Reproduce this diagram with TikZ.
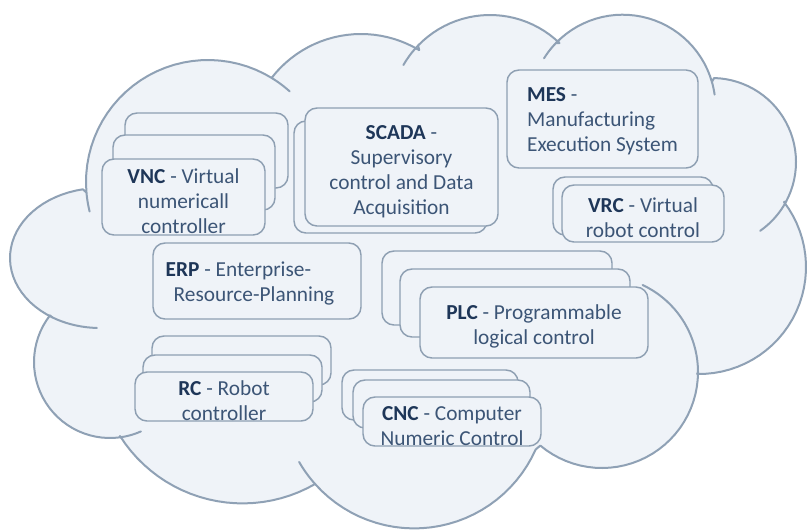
\documentclass[tikz,border=0pt]{standalone}
\usepackage{fontspec}
\setmainfont{Carlito}
\definecolor{cloudf}{HTML}{EFF3F8}
\definecolor{cloudc}{HTML}{8FA1B5}
\definecolor{boxc}{HTML}{8E9FB2}
\definecolor{txtc}{HTML}{3C5576}
\definecolor{acrc}{HTML}{1E3658}
\newcommand{\acr}[1]{\rule{0pt}{17.5pt}\textcolor{acrc}{\textbf{#1}}}
\begin{document}
\begin{tikzpicture}[x=0.75pt,y=-0.75pt,
  cloudline/.style={draw=cloudc, line width=1.5pt, line cap=round},
  box/.style={draw=boxc, line width=1.1pt, fill=cloudf, rounded corners=9pt, inner sep=0pt, outer sep=0pt},
  lbl/.style={text=txtc, font=\fontsize{16}{18.75}\selectfont, align=center}]
\fill[white] (0,0) rectangle (810,529);
\useasboundingbox (0,0) rectangle (810,529);
% cloud body
\path[fill=cloudf, draw=cloudc, line width=1.5pt, line join=round]
 plot[domain=122:259,samples=30,variable=\t] ({100+90*cos(\t)},{258+70*sin(\t)})
 -- plot[domain=175:302,samples=30,variable=\t] ({208+122*cos(\t)},{182+122*sin(\t)})
 -- plot[domain=217.8:301,samples=25,variable=\t] ({361+113*cos(\t)},{147+113*sin(\t)})
 -- plot[domain=224:314,samples=25,variable=\t] ({490+100*cos(\t)},{115+100*sin(\t)})
 -- plot[domain=224:344,samples=30,variable=\t] ({622.7+92.8*cos(\t)},{107.5+92.8*sin(\t)})
 -- plot[domain=271.4:388,samples=30,variable=\t] ({712+84*cos(\t)},{162+84*sin(\t)})
 -- plot[domain=322.6:451,samples=30,variable=\t] ({699+107*cos(\t)},{267+107*sin(\t)})
 -- plot[domain=0:130,samples=30,variable=\t] ({602+96*cos(\t)},{372+96*sin(\t)})
 -- plot[domain=24:138,samples=30,variable=\t] ({414.2+132.9*cos(\t)},{395.5+132.9*sin(\t)})
 -- plot[domain=60:147.6,samples=25,variable=\t] ({242.6+145.2*cos(\t)},{358.2+145.2*sin(\t)})
 -- plot[domain=82:217.8,samples=30,variable=\t] ({110+76*cos(\t)},{362+76*sin(\t)})
 -- cycle;
% inner arcs of the cloud
\draw[cloudline] plot[domain=166:175,samples=6,variable=\t] ({208+122*cos(\t)},{182+122*sin(\t)});
\draw[cloudline] plot[domain=302:312,samples=6,variable=\t] ({208+122*cos(\t)},{182+122*sin(\t)});
\draw[cloudline] plot[domain=210:224,samples=6,variable=\t] ({490+100*cos(\t)},{115+100*sin(\t)});
\draw[cloudline] plot[domain=212:224,samples=6,variable=\t] ({622.7+92.8*cos(\t)},{107.5+92.8*sin(\t)});
\draw[cloudline] plot[domain=344:352,samples=6,variable=\t] ({622.7+92.8*cos(\t)},{107.5+92.8*sin(\t)});
\draw[cloudline] plot[domain=388:415,samples=10,variable=\t] ({712+84*cos(\t)},{162+84*sin(\t)});
\draw[cloudline] plot[domain=295:360,samples=20,variable=\t] ({602+96*cos(\t)},{372+96*sin(\t)});
\draw[cloudline] plot[domain=138:150,samples=6,variable=\t] ({414.2+132.9*cos(\t)},{395.5+132.9*sin(\t)});
\draw[cloudline] plot[domain=66:82,samples=6,variable=\t] ({110+76*cos(\t)},{362+76*sin(\t)});
\draw[cloudline] plot[domain=92:122,samples=10,variable=\t] ({100+90*cos(\t)},{258+70*sin(\t)});
% VNC
\node[box, minimum width=122.25pt, minimum height=56.25pt] (vnc3) at (206.5,150.5) {};
\node[box, minimum width=121.5pt, minimum height=56.25pt] (vnc2) at (194,172.5) {};
\node[box, lbl, minimum width=122.25pt, minimum height=57pt] (vnc) at (183.5,197) {\acr{VNC} - Virtual\\numericall\\controller};
% SCADA
\node[box, minimum width=144.75pt, minimum height=84pt] (scada2) at (390.5,177) {};
\node[box, lbl, minimum width=144.75pt, minimum height=88.5pt] (scada) at (401.5,167) {\acr{SCADA} -\\Supervisory\\control and Data\\Acquisition};
% MES
\node[box, lbl, minimum width=143.25pt, minimum height=73.5pt] (mes) at (602.5,119)
  {\begin{tabular}{@{}l@{}}\acr{MES} -\\Manufacturing\\Execution System\end{tabular}};
% VRC
\node[box, minimum width=120pt, minimum height=43.5pt] (vrc2) at (633,206) {};
\node[box, lbl, minimum width=121.5pt, minimum height=42.75pt] (vrc) at (643,213.5) {\acr{VRC} - Virtual\\robot control};
% ERP
\node[box, lbl, minimum width=156pt, minimum height=57pt] (erp) at (257,281)
  {\begin{tabular}{@{}l@{}}\acr{ERP} - Enterprise-\\\hspace*{6pt}Resource-Planning\hspace*{10.5pt}\end{tabular}};
% PLC
\node[box, minimum width=172.5pt, minimum height=55.5pt] (plc3) at (497,288) {};
\node[box, minimum width=172.5pt, minimum height=51pt] (plc2) at (515,303) {};
\node[box, lbl, minimum width=171pt, minimum height=53.25pt] (plc) at (534,322.5) {\acr{PLC} - Programmable\\logical control};
% RC
\node[box, minimum width=134.25pt, minimum height=36.75pt] (rc3) at (241.5,360.5) {};
\node[box, minimum width=134.25pt, minimum height=35.25pt] (rc2) at (232.5,378.5) {};
\node[box, lbl, minimum width=133.5pt, minimum height=36.75pt] (rc) at (224,396.5) {\acr{RC} - Robot\\controller};
% CNC
\node[box, minimum width=132pt, minimum height=37.5pt] (cnc3) at (430,395) {};
\node[box, minimum width=132.75pt, minimum height=36pt] (cnc2) at (441.5,404) {};
\node[box, lbl, minimum width=133.5pt, minimum height=36.75pt] (cnc) at (452,421.5) {\acr{CNC} - Computer\\Numeric Control};
\end{tikzpicture}
\end{document}
